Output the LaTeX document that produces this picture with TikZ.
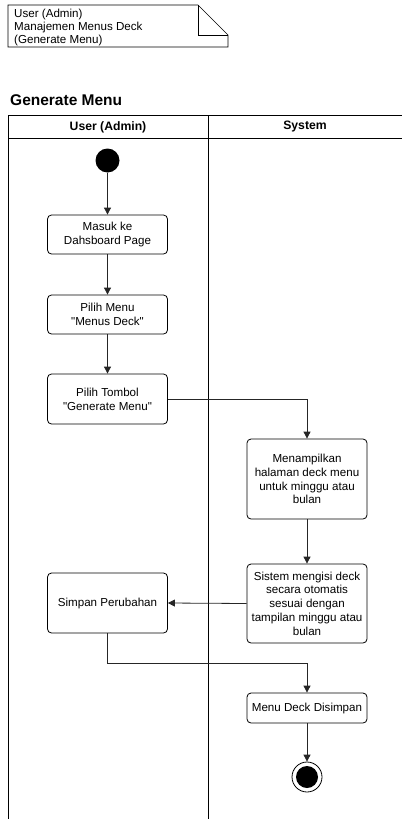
\documentclass[tikz,border=0pt]{standalone}
\usepackage{fontspec}
\setmainfont{Liberation Sans}[Ligatures=TeXOff]
\usetikzlibrary{arrows.meta}
\begin{document}
\begin{tikzpicture}[x=1pt,y=-1pt,
  act/.style={draw=black, line width=0.8pt, rounded corners=4pt, fill=white,
    minimum width=120pt, align=center, font=\fontsize{11.6}{13.8}\selectfont, inner sep=1pt},
  flow/.style={draw=black!85, line width=0.8pt, -{Triangle[width=7pt,length=7pt]}},
  lane/.style={draw=black, line width=0.8pt}]
\useasboundingbox (0,0) rectangle (402,819);
% note with folded corner
\draw[line width=0.6pt] (8,5) -- (198,5) -- (228,35) -- (228,47) -- (8,47) -- cycle;
\draw[line width=0.6pt] (198,5) -- (198,35) -- (228,35);
\node[anchor=north west, align=left, inner sep=0pt, font=\fontsize{11.6}{12.8}\selectfont] (note) at (14,9)
  {User (Admin)\\Manajemen Menus Deck\\(Generate Menu)};
% title
\node[anchor=west, inner sep=0pt, font=\bfseries\fontsize{15.5}{17}\selectfont] (title) at (10,100) {Generate Menu};
% swimlanes
\draw[lane] (8,819) -- (8,115) -- (402,115);
\draw[lane] (8,138) -- (402,138);
\draw[lane] (208,115) -- (208,819);
\node[font=\bfseries\fontsize{12.2}{14}\selectfont] (h1) at (108,127) {User (Admin)};
\node[font=\bfseries\fontsize{12.2}{14}\selectfont] (h2) at (305,127) {System};
% start
\node[circle, fill=black, minimum size=24pt, inner sep=0pt] (start) at (107.5,160.5) {};
% actions
\node[act, minimum height=39pt] (a1) at (107.5,234.5) {Masuk ke\\Dahsboard Page};
\node[act, minimum height=39pt] (a2) at (107.5,314.5) {Pilih Menu\\"Menus Deck"};
\node[act, minimum height=50pt] (a3) at (107.5,399) {Pilih Tombol\\"Generate Menu"};
\node[act, minimum height=80pt] (b1) at (307,479) {Menampilkan\\halaman deck menu\\untuk minggu atau\\bulan};
\node[act, minimum height=79pt, inner sep=0pt] (b2) at (307,603.5) {Sistem mengisi deck\\secara otomatis\\sesuai dengan\\tampilan minggu atau\\bulan};
\node[act, minimum height=60pt] (a4) at (107.5,603) {Simpan Perubahan};
\node[act, minimum height=30pt] (b3) at (307,708) {Menu Deck Disimpan};
% end
\node[circle, draw=black, line width=0.8pt, minimum size=30pt, inner sep=0pt] (endo) at (307,777) {};
\node[circle, fill=black, minimum size=22pt, inner sep=0pt] (endi) at (endo) {};
% flows
\draw[flow] (start) -- (a1);
\draw[flow] (a1) -- (a2);
\draw[flow] (a2) -- (a3);
\draw[flow] (a3.east) -| (b1.north);
\draw[flow] (b1) -- (b2);
\draw[flow] (b2.west) -- (a4.east);
\draw[flow] (a4.south) -- (107.5,663) -| (b3.north);
\draw[flow] (b3) -- (endo);
\end{tikzpicture}
\end{document}
